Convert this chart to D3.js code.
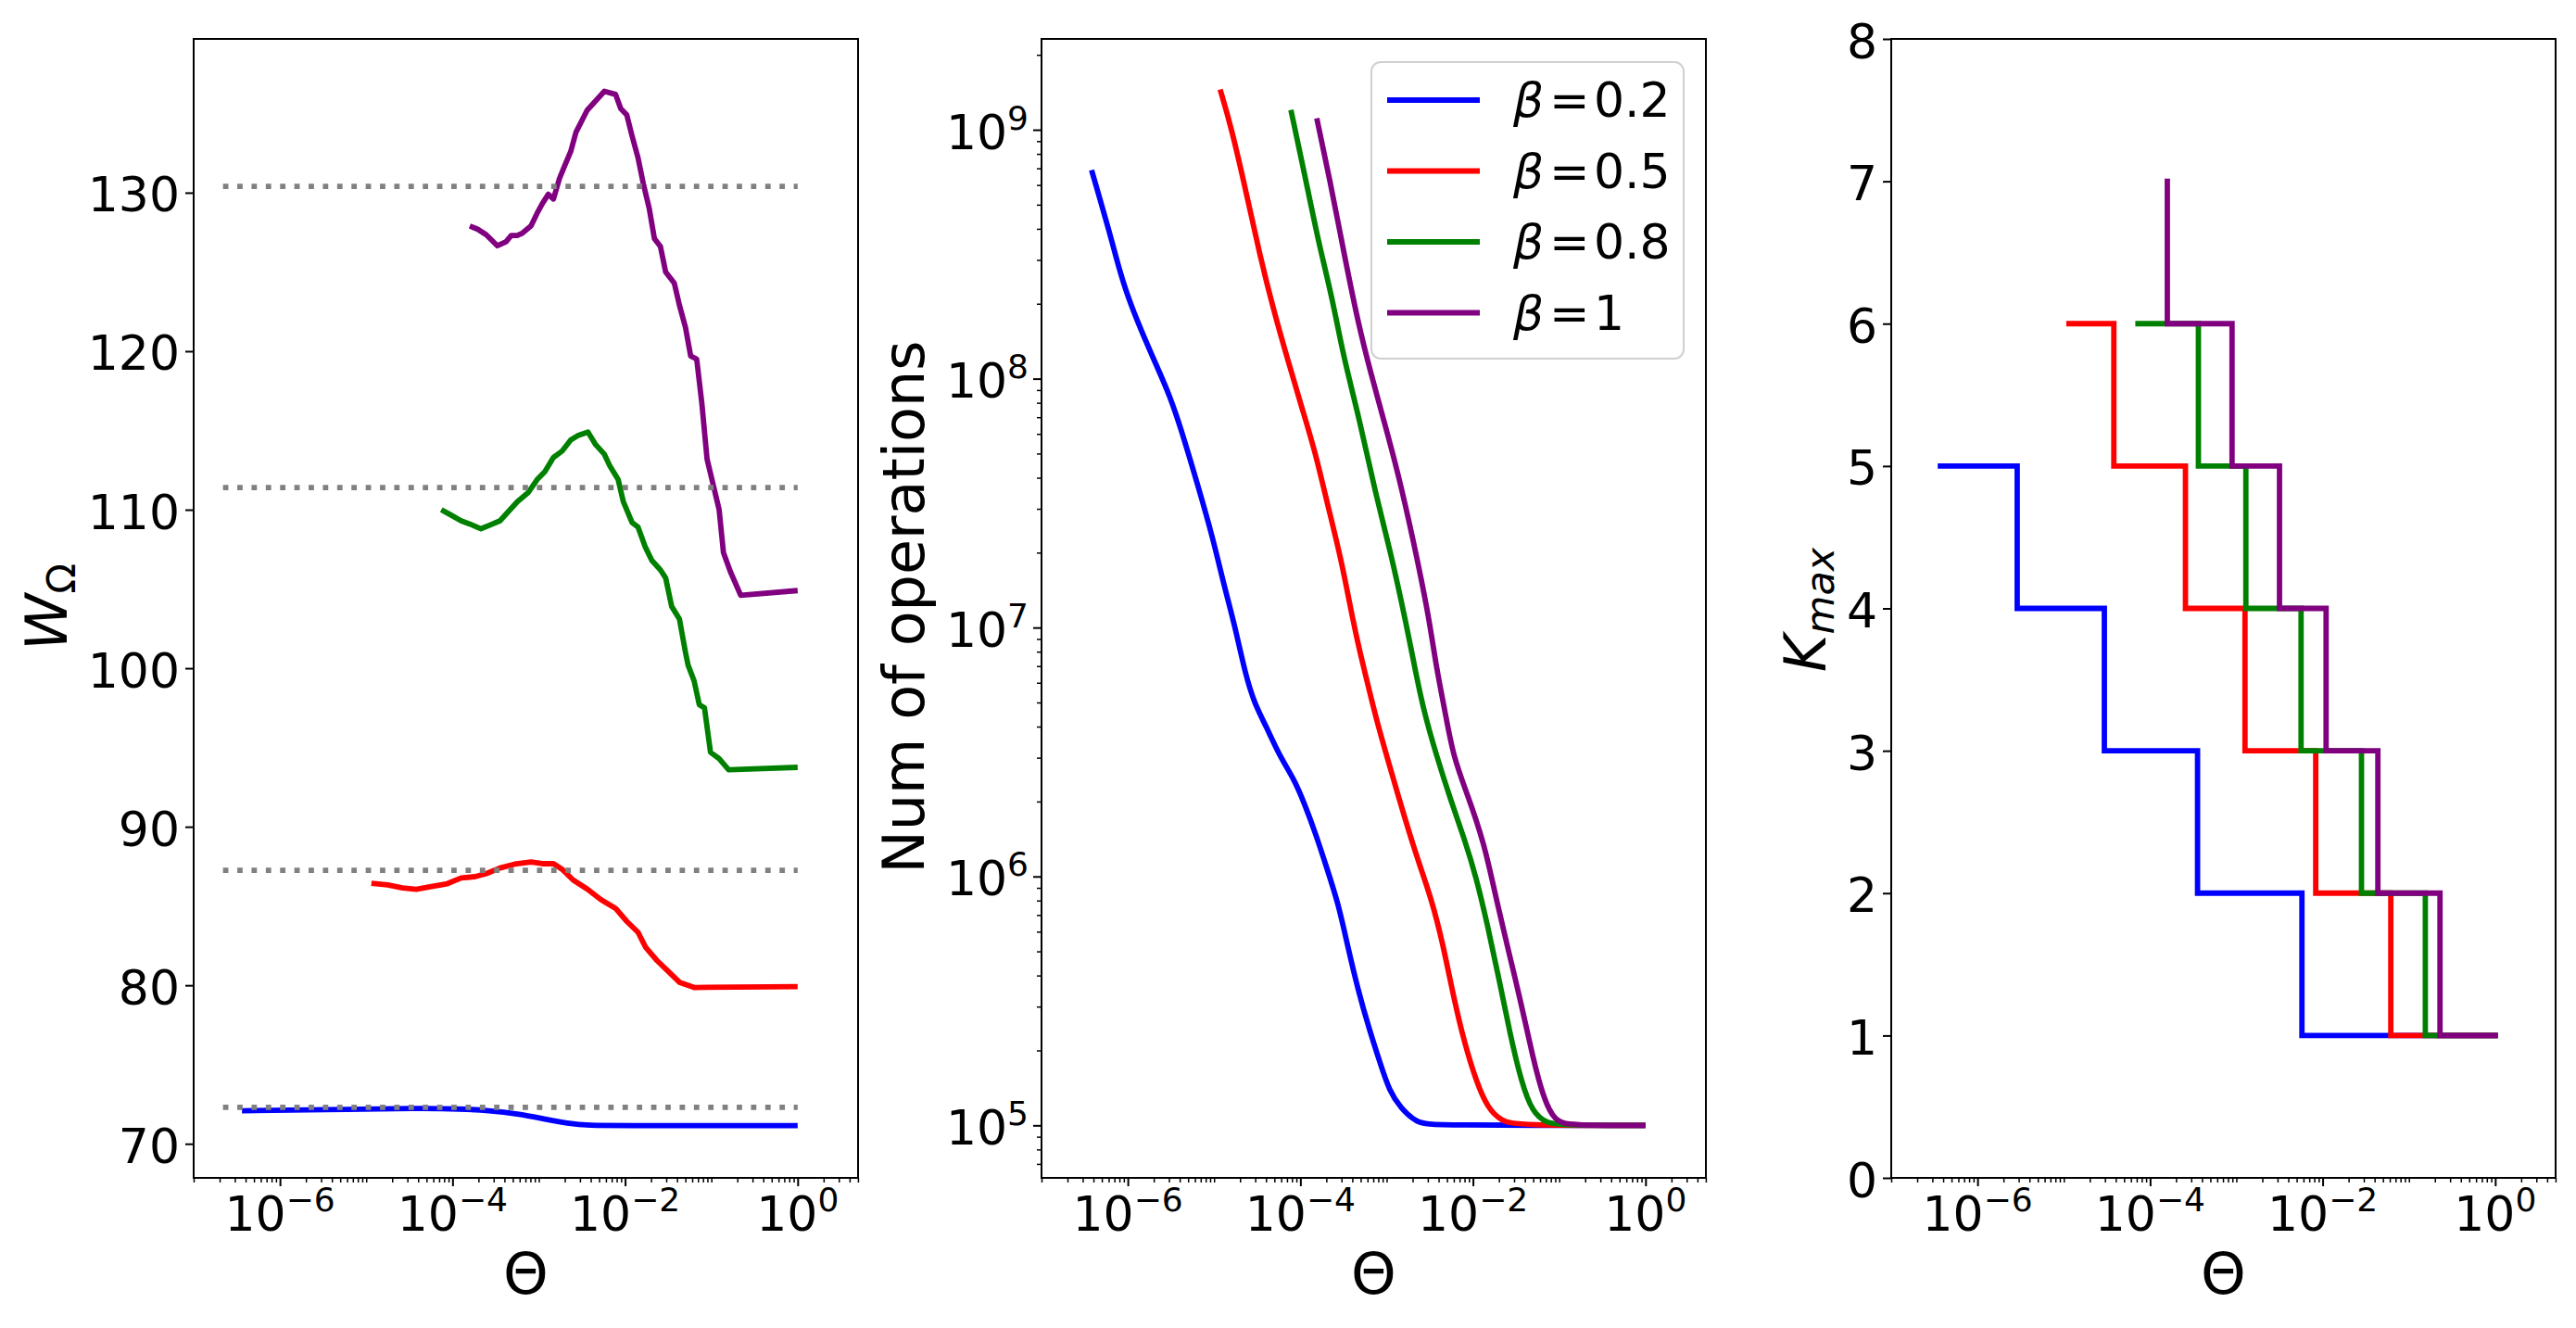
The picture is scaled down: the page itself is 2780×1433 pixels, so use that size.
<!DOCTYPE html>
<html lang="en">
<head>
<meta charset="UTF-8">
<title>Theta sweep</title>
<script src="https://d3js.org/d3.v7.min.js"></script>
<style>
  html, body { margin: 0; padding: 0; background: #fff; }
  text { font-family: "DejaVu Sans", sans-serif; fill: #000; }
</style>
</head>
<body>
<script>
const width = 2780, height = 1433;

// series labels / colours
const betas = ["0.2", "0.5", "0.8", "1"];
const colors = ["blue", "red", "green", "purple"];

// panel 1: W_Omega, pairs [log10(theta), W]
const wBlue = [[-6.44,72.08],[-5.5,72.15],[-4.36,72.25],[-3.9,72.2],[-3.58,72.1],[-3.25,71.9],[-2.93,71.56],
  [-2.67,71.29],[-2.41,71.15],[-2.08,71.15],[0,71.15]];
const wRed = [[-4.94,86.44],[-4.75,86.33],[-4.58,86.14],[-4.42,86.05],[-4.26,86.22],[-4.06,86.41],[-3.90,86.77],
  [-3.74,86.85],[-3.61,87.04],[-3.45,87.40],[-3.28,87.64],[-3.09,87.78],[-2.96,87.67],[-2.83,87.67],[-2.73,87.32],
  [-2.60,86.63],[-2.44,86.08],[-2.28,85.40],[-2.11,84.85],[-1.98,84.03],[-1.85,83.34],[-1.76,82.38],[-1.63,81.56],
  [-1.50,80.88],[-1.37,80.19],[-1.20,79.86],[0,79.92]];
const wGreen = [[-4.13,110.0],[-4.03,109.7],[-3.90,109.3],[-3.80,109.1],[-3.67,108.8],[-3.58,109.0],[-3.45,109.3],
  [-3.35,109.9],[-3.25,110.5],[-3.12,111.1],[-3.02,111.9],[-2.93,112.4],[-2.83,113.3],[-2.73,113.7],[-2.63,114.4],
  [-2.54,114.7],[-2.43,114.9],[-2.34,114.1],[-2.24,113.5],[-2.18,112.8],[-2.08,111.9],[-2.02,110.5],[-1.92,109.2],
  [-1.85,108.9],[-1.77,107.7],[-1.69,106.8],[-1.59,106.2],[-1.53,105.7],[-1.46,103.9],[-1.37,103.1],[-1.30,101.0],
  [-1.27,100.2],[-1.20,99.2],[-1.14,97.7],[-1.08,97.5],[-1.01,94.7],[-0.91,94.3],[-0.80,93.6],[0,93.75]];
const wPurple = [[-3.80,127.9],[-3.71,127.7],[-3.61,127.35],[-3.48,126.65],[-3.38,126.9],[-3.32,127.3],[-3.25,127.3],
  [-3.19,127.45],[-3.09,127.9],[-3.02,128.7],[-2.96,129.3],[-2.89,129.9],[-2.83,129.6],[-2.76,130.9],[-2.70,131.7],
  [-2.63,132.6],[-2.57,133.8],[-2.44,135.2],[-2.34,135.8],[-2.24,136.4],[-2.11,136.2],[-2.05,135.3],[-1.98,134.9],
  [-1.92,133.6],[-1.85,132.2],[-1.79,130.6],[-1.72,129.0],[-1.66,127.1],[-1.59,126.6],[-1.53,125.0],[-1.43,124.3],
  [-1.37,122.9],[-1.30,121.5],[-1.24,119.7],[-1.17,119.5],[-1.11,116.7],[-1.05,113.2],[-0.98,111.6],[-0.91,110.0],
  [-0.86,107.3],[-0.78,106.1],[-0.66,104.6],[0,104.9]];
// dotted reference levels and where they start (log10 theta)
const wRefLevels = [72.3, 87.25, 111.4, 130.4];
const wRefRange = [-6.66, 0];

// panel 2: operations, pairs [log10(theta), log10(ops)]
const opsBlue = [[-6.42,8.838],[-6.32,8.718],[-6.22,8.598],[-6.13,8.479],[-6.03,8.359],[-5.90,8.239],[-5.71,8.085],
  [-5.51,7.932],[-5.35,7.761],[-5.19,7.573],[-5.02,7.368],[-4.88,7.162],[-4.76,7.009],[-4.64,6.815],[-4.53,6.693],
  [-4.40,6.606],[-4.24,6.483],[-4.08,6.396],[-3.95,6.291],[-3.82,6.169],[-3.69,6.030],[-3.56,5.890],[-3.46,5.733],
  [-3.33,5.541],[-3.20,5.384],[-3.07,5.244],[-2.97,5.140],[-2.84,5.070],[-2.65,5.009],[-2.45,5.0],[0,5.0]];
const opsRed = [[-4.93,9.162],[-4.80,9.009],[-4.63,8.752],[-4.47,8.496],[-4.31,8.274],[-4.14,8.068],[-3.98,7.880],
  [-3.83,7.709],[-3.68,7.487],[-3.52,7.265],[-3.39,7.026],[-3.31,6.902],[-3.20,6.745],[-3.10,6.606],[-2.97,6.449],
  [-2.78,6.222],[-2.62,6.047],[-2.48,5.908],[-2.35,5.733],[-2.23,5.524],[-2.10,5.332],[-1.96,5.175],[-1.83,5.070],
  [-1.67,5.017],[-1.48,5.0],[0,5.0]];
const opsGreen = [[-4.11,9.080],[-3.95,8.821],[-3.79,8.547],[-3.63,8.325],[-3.50,8.085],[-3.32,7.846],[-3.13,7.538],
  [-2.95,7.299],[-2.77,7.009],[-2.70,6.885],[-2.58,6.675],[-2.42,6.483],[-2.26,6.309],[-2.10,6.152],[-1.96,5.995],
  [-1.83,5.803],[-1.70,5.593],[-1.57,5.367],[-1.44,5.175],[-1.31,5.052],[-1.15,5.009],[-0.96,5.0],[0,5.0]];
const opsPurple = [[-3.81,9.046],[-3.66,8.803],[-3.49,8.496],[-3.33,8.222],[-3.18,8.017],[-3.03,7.829],[-2.87,7.624],
  [-2.69,7.350],[-2.51,7.043],[-2.43,6.850],[-2.32,6.658],[-2.23,6.483],[-2.06,6.326],[-1.87,6.134],[-1.74,5.925],
  [-1.61,5.733],[-1.44,5.489],[-1.31,5.279],[-1.18,5.105],[-1.05,5.017],[-0.89,5.0],[0,5.0]];

// panel 3: K_max steps, pairs [log10(theta), K]
const kBlue = [[-6.43,5],[-5.54,4],[-4.53,3],[-3.45,2],[-2.24,1],[0,1]];
const kRed = [[-4.94,6],[-4.42,5],[-3.59,4],[-2.90,3],[-2.08,2],[-1.21,1],[0,1]];
const kGreen = [[-4.14,6],[-3.44,5],[-2.89,4],[-2.25,3],[-1.55,2],[-0.81,1],[0,1]];
const kPurple = [[-3.80,7],[-3.80,6],[-3.05,5],[-2.50,4],[-1.96,3],[-1.36,2],[-0.64,1],[0,1]];

// ticks
const xMajorExp = [-6, -4, -2, 0];
const wTicks = [70, 80, 90, 100, 110, 120, 130];
const opsMajorExp = [5, 6, 7, 8, 9];
const kTicks = [0, 1, 2, 3, 4, 5, 6, 7, 8];

// layout
const plotTop = 42, ph = 1229, pw = 717;
const panelLeft = [209, 1124, 2041];
const lw = 5.8;
const tickFont = 52, supFont = 36, labelFont = 62;

const svg = d3.select("body").append("svg")
  .attr("width", width).attr("height", height)
  .style("background", "#fff");

const x = d3.scaleLog().domain([1e-7, Math.pow(10, 0.7)]).range([0, pw]);
const yW = d3.scaleLinear().domain([67.85, 139.7]).range([ph, 0]);
const yOps = d3.scaleLog().domain([Math.pow(10, 4.789), Math.pow(10, 9.365)]).range([ph, 0]);
const yK = d3.scaleLinear().domain([0, 8]).range([ph, 0]);

const pow10 = e => Math.pow(10, e);

// minor log ticks k*10^n inside a domain, skipping the labelled majors
function logMinors(domain, majors) {
  const out = [];
  const lo = Math.floor(Math.log10(domain[0])), hi = Math.ceil(Math.log10(domain[1]));
  for (let n = lo; n <= hi; n++) {
    for (let k = 1; k <= 9; k++) {
      const v = k * Math.pow(10, n);
      if (v < domain[0] * 0.9999 || v > domain[1] * 1.0001) continue;
      if (k === 1 && majors.includes(n)) continue;
      out.push(v);
    }
  }
  return out;
}

function powLabel(t, exp) {
  t.append("tspan").text("10");
  t.append("tspan").attr("dy", -21).attr("font-size", supFont)
    .text(exp < 0 ? "\u2212" + (-exp) : String(exp));
}

function makePanel(i) {
  return svg.append("g").attr("transform", `translate(${panelLeft[i]},${plotTop})`);
}

function tickStyle(g, w) {
  g.select(".domain").remove();
  g.selectAll(".tick line").attr("stroke", "#000").attr("stroke-width", w);
}

function xAxis(g) {
  const minors = logMinors(x.domain(), xMajorExp);
  g.append("g").attr("transform", `translate(0,${ph})`)
    .call(d3.axisBottom(x).tickValues(minors).tickSize(5).tickFormat(""))
    .call(s => tickStyle(s, 1.5));
  g.append("g").attr("transform", `translate(0,${ph})`)
    .call(d3.axisBottom(x).tickValues(xMajorExp.map(pow10)).tickSize(9).tickFormat(""))
    .call(s => tickStyle(s, 2));
  xMajorExp.forEach(e => {
    const t = g.append("text")
      .attr("x", x(pow10(e))).attr("y", ph + 57)
      .attr("text-anchor", "middle").attr("font-size", tickFont);
    powLabel(t, e);
  });
  g.append("text").attr("x", pw / 2).attr("y", ph + 125)
    .attr("text-anchor", "middle").attr("font-size", labelFont).text("\u0398");
}

function frame(g) {
  g.append("rect").attr("width", pw).attr("height", ph)
    .attr("fill", "none").attr("stroke", "#000").attr("stroke-width", 2);
}

function linearY(g, y, ticks) {
  g.call(d3.axisLeft(y).tickValues(ticks).tickSize(9).tickFormat(""))
    .call(s => tickStyle(s, 2));
  ticks.forEach(v => {
    g.append("text").attr("x", -15).attr("y", y(v) + 20.5)
      .attr("text-anchor", "end").attr("font-size", tickFont).text(v);
  });
}

// ---------- panel 1 ----------
const p1 = makePanel(0);
const lineW = d3.line().x(d => x(pow10(d[0]))).y(d => yW(d[1]));
[wBlue, wRed, wGreen, wPurple].forEach((s, i) => {
  p1.append("path").datum(s)
    .attr("fill", "none").attr("stroke", colors[i]).attr("stroke-width", lw)
    .attr("stroke-linejoin", "round")
    .attr("d", i === 0 ? lineW.curve(d3.curveBasis)(s) : lineW.curve(d3.curveLinear)(s));
});
wRefLevels.forEach(v => {
  p1.append("line")
    .attr("x1", x(pow10(wRefRange[0]))).attr("x2", x(pow10(wRefRange[1])))
    .attr("y1", yW(v)).attr("y2", yW(v))
    .attr("stroke", "gray").attr("stroke-width", lw)
    .attr("stroke-dasharray", "5.8 9.6");
});
linearY(p1.append("g"), yW, wTicks);
xAxis(p1);
frame(p1);
svg.append("text").attr("transform", "translate(72,655) rotate(-90)")
  .attr("text-anchor", "middle").attr("font-size", labelFont)
  .call(t => {
    t.append("tspan").attr("font-style", "italic").text("W");
    t.append("tspan").attr("font-size", 43).attr("dy", 9).text("\u03A9");
  });

// ---------- panel 2 ----------
const p2 = makePanel(1);
const lineOps = d3.line().x(d => x(pow10(d[0]))).y(d => yOps(pow10(d[1]))).curve(d3.curveBasis);
[opsBlue, opsRed, opsGreen, opsPurple].forEach((s, i) => {
  p2.append("path").datum(s)
    .attr("fill", "none").attr("stroke", colors[i]).attr("stroke-width", lw)
    .attr("stroke-linejoin", "round").attr("d", lineOps);
});
{
  const g = p2.append("g");
  g.call(d3.axisLeft(yOps).tickValues(logMinors(yOps.domain(), opsMajorExp)).tickSize(5).tickFormat(""))
    .call(s => tickStyle(s, 1.5));
  const gm = p2.append("g");
  gm.call(d3.axisLeft(yOps).tickValues(opsMajorExp.map(pow10)).tickSize(9).tickFormat(""))
    .call(s => tickStyle(s, 2));
  opsMajorExp.forEach(e => {
    const t = p2.append("text").attr("x", -14).attr("y", yOps(pow10(e)) + 20.5)
      .attr("text-anchor", "end").attr("font-size", tickFont);
    powLabel(t, e);
  });
}
xAxis(p2);
frame(p2);
svg.append("text").attr("transform", "translate(997,655) rotate(-90)")
  .attr("text-anchor", "middle").attr("font-size", labelFont).text("Num of operations");

// legend
const legend = svg.append("g").attr("transform", "translate(1480,67)");
legend.append("rect").attr("width", 337).attr("height", 320).attr("rx", 10)
  .attr("fill", "#fff").attr("fill-opacity", 0.8)
  .attr("stroke", "#d0d0d0").attr("stroke-width", 2);
betas.forEach((b, i) => {
  const cy = 41 + i * 76.5;
  legend.append("line").attr("x1", 17).attr("x2", 117).attr("y1", cy).attr("y2", cy)
    .attr("stroke", colors[i]).attr("stroke-width", lw);
  const t = legend.append("text").attr("y", cy + 18).attr("font-size", tickFont);
  t.append("tspan").attr("x", 153).attr("font-style", "italic").text("\u03B2");
  t.append("tspan").attr("x", 192).text("=");
  t.append("tspan").attr("x", 240).text(b);
});

// ---------- panel 3 ----------
const p3 = makePanel(2);
const lineK = d3.line().x(d => x(pow10(d[0]))).y(d => yK(d[1])).curve(d3.curveStepAfter);
[kBlue, kRed, kGreen, kPurple].forEach((s, i) => {
  p3.append("path").datum(s)
    .attr("fill", "none").attr("stroke", colors[i]).attr("stroke-width", lw)
    .attr("stroke-linejoin", "miter").attr("stroke-linecap", "square").attr("d", lineK);
});
linearY(p3.append("g"), yK, kTicks);
xAxis(p3);
frame(p3);
svg.append("text").attr("transform", "translate(1970,658) rotate(-90)")
  .attr("text-anchor", "middle").attr("font-size", labelFont)
  .call(t => {
    t.append("tspan").attr("font-style", "italic").text("K");
    t.append("tspan").attr("font-size", 43).attr("font-style", "italic").attr("dy", 9).text("max");
  });
</script>
</body>
</html>
